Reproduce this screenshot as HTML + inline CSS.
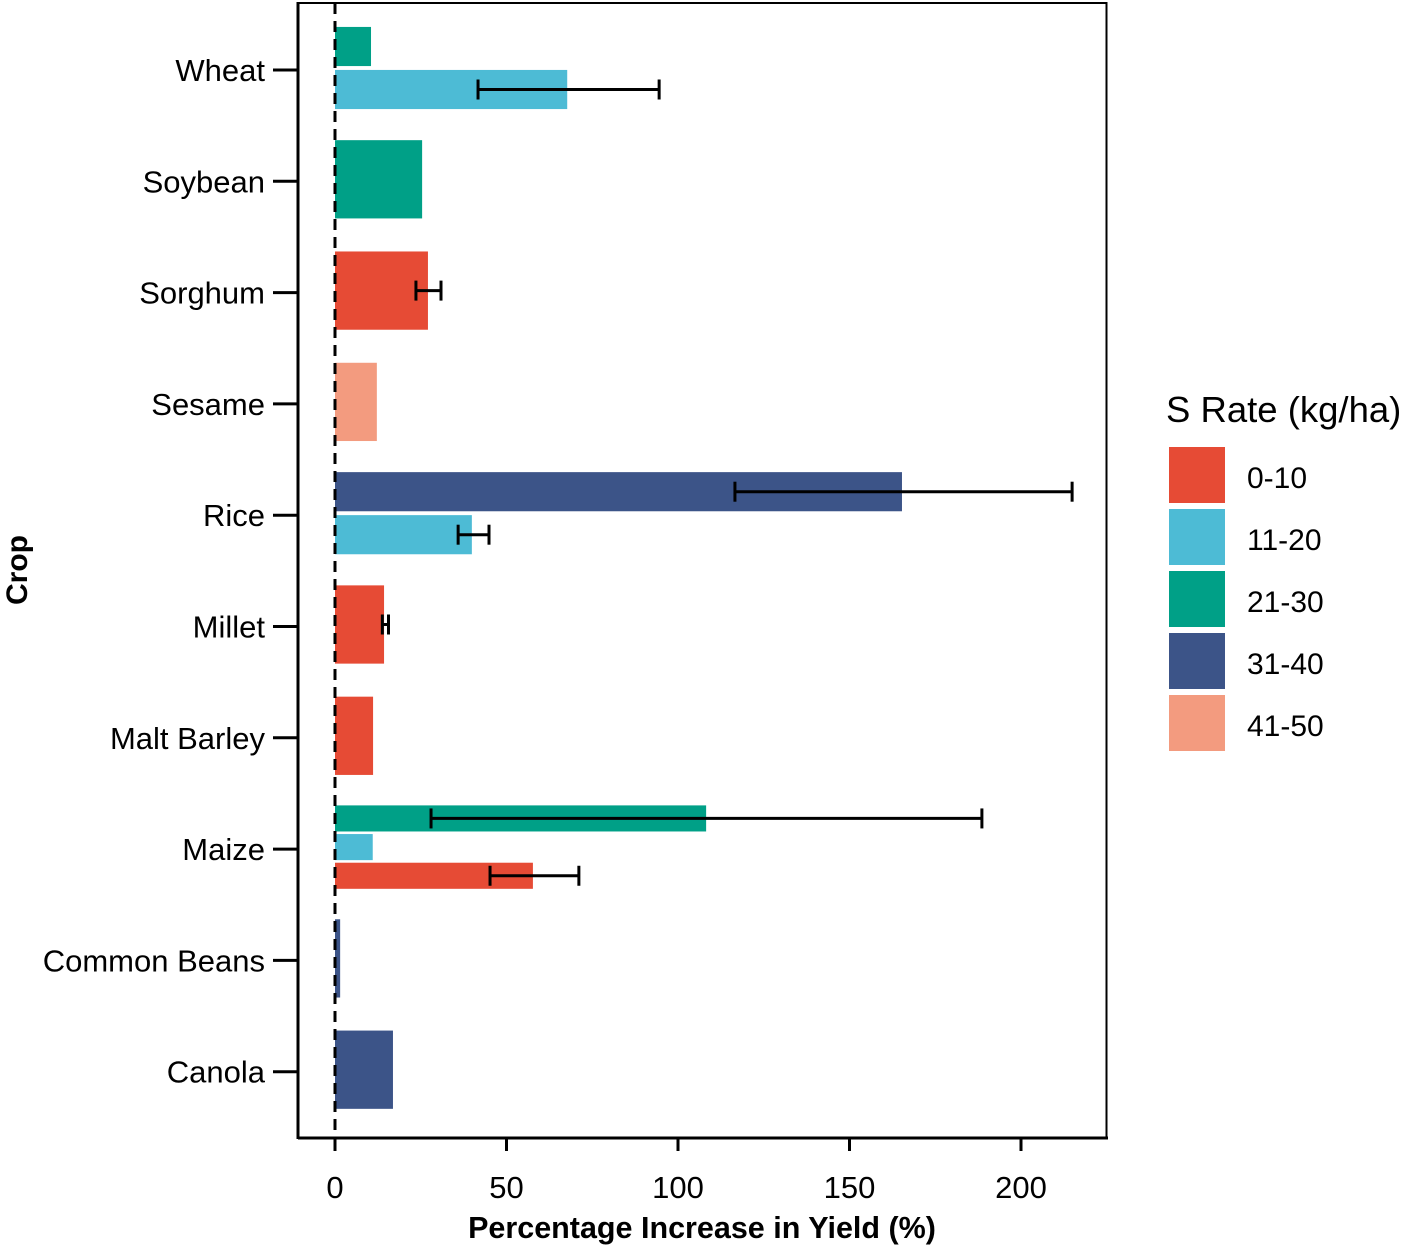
<!DOCTYPE html>
<html><head><meta charset="utf-8"><style>
body{margin:0;background:#fff;}
svg{display:block;font-family:"Liberation Sans",Arial,sans-serif;}
</style></head><body>
<svg id="chart" width="1417" height="1246" viewBox="0 0 1417 1246">
<g id="bars"></g>
<g id="axes"></g>
<g id="legend"></g>
</svg>
<script>
const categories=["Wheat","Soybean","Sorghum","Sesame","Rice","Millet","Malt Barley","Maize","Common Beans","Canola"];
const rates=["0-10","11-20","21-30","31-40","41-50"];
const rateColors=["#E64B35","#4DBBD5","#00A087","#3C5488","#F39B7F"];
const barCrop=["Wheat","Wheat","Soybean","Sorghum","Sesame","Rice","Rice","Millet","Malt Barley","Maize","Maize","Maize","Common Beans","Canola"];
const barRate=[2,1,2,0,4,3,1,0,0,2,1,0,3,3];
const barValue=[10.5,67.7,25.4,27.1,12.2,165.3,39.9,14.3,11.1,108.2,11,57.7,1.5,16.9];
const errLow=[null,41.7,null,23.6,null,116.6,35.9,13.8,null,28,null,45.2,null,null];
const errHigh=[null,94.5,null,30.9,null,214.9,44.9,15.6,null,188.6,null,71.1,null,null];
const xTicks=[0,50,100,150,200];

const NS="http://www.w3.org/2000/svg";
function el(tag,attrs,parent,text){const e=document.createElementNS(NS,tag);for(const k in attrs)e.setAttribute(k,attrs[k]);if(text!==undefined)e.textContent=text;parent.appendChild(e);return e;}
const x=v=>335+v*3.43;
const y=i=>70+i*111.3;
const bars=document.getElementById('bars'),axes=document.getElementById('axes'),legend=document.getElementById('legend');

categories.forEach((c,ci)=>{
  const idx=barCrop.map((b,i)=>b===c?i:-1).filter(i=>i>=0);
  const n=idx.length, groupW=86, slot=groupW/n, h=slot*0.91;
  idx.forEach((bi,k)=>{
    const cy=y(ci)-2-groupW/2+slot*(k+0.5);
    const r=el('rect',{x:x(0),y:cy-h/2,width:x(barValue[bi])-x(0),height:h,fill:rateColors[barRate[bi]]},bars);
    
    
    if(errLow[bi]!==null){
      const g=el('g',{stroke:'#000','stroke-width':3},bars);
      
      
      el('line',{x1:x(errLow[bi]),x2:x(errHigh[bi]),y1:cy,y2:cy},g);
      const cap=Math.min(10,h/2-2);
      el('line',{x1:x(errLow[bi]),x2:x(errLow[bi]),y1:cy-cap,y2:cy+cap},g);
      el('line',{x1:x(errHigh[bi]),x2:x(errHigh[bi]),y1:cy-cap,y2:cy+cap},g);
    }
  });
});
const z=el('line',{x1:x(0),x2:x(0),y1:3,y2:1138,stroke:'#000','stroke-width':3,'stroke-dasharray':'11,7'},axes);

const p=el('rect',{x:298.5,y:3,width:808,height:1135,fill:'none',stroke:'#000','stroke-width':2},axes);

el('line',{x1:298,x2:1108,y1:1138,y2:1138,stroke:'#000','stroke-width':3},axes);
el('line',{x1:298,x2:298,y1:2,y2:1139,stroke:'#000','stroke-width':3},axes);
categories.forEach((c,ci)=>{
  el('line',{x1:273,x2:298,y1:y(ci),y2:y(ci),stroke:'#000','stroke-width':3},axes);
  const t=el('text',{x:265,y:y(ci)+11,'text-anchor':'end','font-size':31,fill:'#000'},axes,c);
  
});
xTicks.forEach(v=>{
  el('line',{x1:x(v),x2:x(v),y1:1138,y2:1151,stroke:'#000','stroke-width':3},axes);
  const t=el('text',{x:x(v),y:1198,'text-anchor':'middle','font-size':31,fill:'#000'},axes,v);
  
});
const xt=el('text',{x:702,y:1238,'text-anchor':'middle','font-size':30.5,'font-weight':'bold'},axes,'Percentage Increase in Yield (%)');

const yt=el('text',{x:0,y:0,transform:'translate(27,570) rotate(-90)','text-anchor':'middle','font-size':30,'font-weight':'bold'},axes,'Crop');

const lt=el('text',{x:1166,y:422,'font-size':36.5},legend,'S Rate (kg/ha)');

rates.forEach((r,i)=>{
  const g=el('g',{},legend);
  
  
  el('rect',{x:1169,y:447+i*62,width:56,height:56,fill:rateColors[i]},g);
  el('text',{x:1247,y:488+i*62,'font-size':30},g,r);
});
</script>
</body></html>
